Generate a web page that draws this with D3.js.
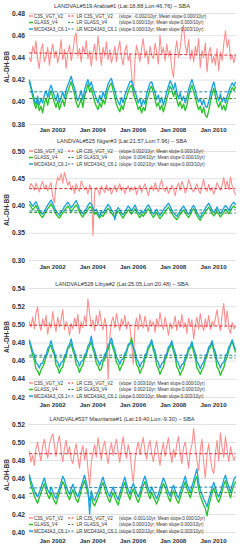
<!DOCTYPE html>
<html>
<head>
<meta charset="utf-8">
<script src="https://cdn.jsdelivr.net/npm/d3@7"></script>
<style>
body { margin: 0; background: #fff; }
svg { display: block; font-family: "Liberation Sans", Arial, sans-serif; }
</style>
</head>
<body>
<div id="chart"></div>
<script>
// AL-DH-BB time series for four desert LANDVAL sites, monthly, Nov 2000 .. Feb 2011

const seriesNames = ["C3S_VGT_V2", "GLASS_V4", "MCD43A3_C6.1"];
const xTickYears = [2002, 2004, 2006, 2008, 2010];

const titles = [
  "LANDVAL#519 Arabia#1 (Lat:18.88,Lon:46.76) \u2013 SBA",
  "LANDVAL#525 Niger#3 (Lat:21.57,Lon:7.96) \u2013 SBA",
  "LANDVAL#528 Libya#2 (Lat:25.05,Lon:20.48) \u2013 SBA",
  "LANDVAL#537 Mauritania#1 (Lat:19.40,Lon:-9.30) \u2013 SBA"
];

// ---- Arabia#1
const arabiaTicks = [0.38, 0.40, 0.42, 0.44, 0.46, 0.48];
const arabiaC3S = [0.440, 0.436,
  0.450, 0.444, 0.455, 0.438, 0.430, 0.447, 0.452, 0.436, 0.441, 0.449, 0.433, 0.445,
  0.452, 0.440, 0.446, 0.435, 0.443, 0.456, 0.438, 0.447, 0.430, 0.444, 0.451, 0.437,
  0.445, 0.458, 0.462, 0.441, 0.448, 0.436, 0.450, 0.443, 0.455, 0.439, 0.446, 0.432,
  0.444, 0.452, 0.437, 0.459, 0.446, 0.433, 0.449, 0.441, 0.454, 0.438, 0.447, 0.435,
  0.442, 0.450, 0.436, 0.447, 0.455, 0.440, 0.433, 0.446, 0.451, 0.437, 0.443, 0.425,
  0.405, 0.438, 0.451, 0.444, 0.436, 0.448, 0.457, 0.440, 0.446, 0.434, 0.450, 0.442,
  0.439, 0.453, 0.445, 0.434, 0.460, 0.443, 0.449, 0.437, 0.452, 0.441, 0.446, 0.430,
  0.422, 0.445, 0.455, 0.440, 0.448, 0.462, 0.469, 0.451, 0.443, 0.456, 0.438, 0.447,
  0.436, 0.450, 0.442, 0.457, 0.431, 0.446, 0.440, 0.453, 0.427, 0.444, 0.449, 0.435,
  0.441, 0.433, 0.448, 0.428, 0.445, 0.437, 0.452, 0.464, 0.449, 0.456, 0.438, 0.442,
  0.435, 0.443];
const arabiaGLASS = [0.418, 0.412,
  0.405, 0.398, 0.394, 0.401, 0.392, 0.396, 0.390, 0.399, 0.403, 0.397, 0.405, 0.410,
  0.404, 0.399, 0.395, 0.401, 0.393, 0.398, 0.402, 0.396, 0.405, 0.409, 0.414, 0.418,
  0.412, 0.407, 0.400, 0.395, 0.398, 0.403, 0.395, 0.405, 0.410, 0.416, 0.409, 0.413,
  0.406, 0.400, 0.396, 0.393, 0.399, 0.395, 0.402, 0.398, 0.405, 0.411, 0.415, 0.417,
  0.410, 0.404, 0.398, 0.394, 0.391, 0.397, 0.393, 0.400, 0.404, 0.409, 0.413, 0.415,
  0.409, 0.403, 0.399, 0.393, 0.396, 0.390, 0.395, 0.392, 0.401, 0.406, 0.412, 0.414,
  0.408, 0.402, 0.396, 0.399, 0.393, 0.397, 0.391, 0.396, 0.403, 0.408, 0.414, 0.411,
  0.405, 0.410, 0.402, 0.396, 0.400, 0.394, 0.398, 0.392, 0.397, 0.405, 0.411, 0.415,
  0.409, 0.404, 0.398, 0.393, 0.396, 0.390, 0.395, 0.388, 0.386, 0.392, 0.400, 0.407,
  0.412, 0.405, 0.399, 0.395, 0.400, 0.393, 0.397, 0.392, 0.399, 0.404, 0.409, 0.413,
  0.410, 0.414];
const arabiaMCD = [0.420, 0.414,
  0.408, 0.402, 0.398, 0.405, 0.397, 0.403, 0.399, 0.406, 0.410, 0.404, 0.411, 0.415,
  0.410, 0.405, 0.401, 0.408, 0.399, 0.404, 0.409, 0.403, 0.411, 0.415, 0.419, 0.423,
  0.417, 0.412, 0.406, 0.401, 0.405, 0.410, 0.402, 0.411, 0.416, 0.420, 0.414, 0.418,
  0.412, 0.407, 0.403, 0.399, 0.406, 0.401, 0.409, 0.404, 0.411, 0.416, 0.419, 0.421,
  0.415, 0.410, 0.404, 0.400, 0.397, 0.404, 0.399, 0.406, 0.410, 0.414, 0.418, 0.419,
  0.414, 0.409, 0.405, 0.399, 0.403, 0.396, 0.402, 0.398, 0.407, 0.412, 0.417, 0.418,
  0.413, 0.408, 0.402, 0.406, 0.399, 0.404, 0.397, 0.403, 0.409, 0.414, 0.419, 0.416,
  0.411, 0.417, 0.409, 0.403, 0.408, 0.401, 0.405, 0.399, 0.404, 0.411, 0.416, 0.420,
  0.415, 0.410, 0.404, 0.400, 0.403, 0.397, 0.402, 0.396, 0.395, 0.400, 0.407, 0.413,
  0.418, 0.411, 0.406, 0.401, 0.407, 0.400, 0.404, 0.399, 0.405, 0.410, 0.414, 0.417,
  0.414, 0.418];
// linear-regression lines, [start, end] for C3S, GLASS, MCD
const arabiaTrend = [[0.444, 0.442], [0.403, 0.403], [0.409, 0.409]];
const arabiaSlopes = [
  "(slope: -0.002/10yr; Mean slope:0.000/10yr)",
  "(slope:0.000/10yr; Mean slope:0.000/10yr)",
  "(slope:0.000/10yr; Mean slope:0.003/10yr)"
];

// ---- Niger#3
const nigerTicks = [0.30, 0.35, 0.40, 0.45, 0.50];
const nigerC3S = [0.432, 0.440,
  0.436, 0.428, 0.441, 0.433, 0.425, 0.437, 0.444, 0.430, 0.438, 0.427, 0.435, 0.442,
  0.415, 0.405, 0.438, 0.452, 0.446, 0.458, 0.441, 0.461, 0.449, 0.437, 0.444, 0.428,
  0.436, 0.422, 0.440, 0.431, 0.426, 0.445, 0.437, 0.429, 0.434, 0.421, 0.438, 0.430,
  0.345, 0.425, 0.433, 0.428, 0.419, 0.436, 0.430, 0.424, 0.438, 0.427, 0.433, 0.421,
  0.429, 0.437, 0.425, 0.432, 0.440, 0.427, 0.434, 0.422, 0.431, 0.436, 0.426, 0.433,
  0.428, 0.435, 0.420, 0.431, 0.437, 0.424, 0.433, 0.440, 0.429, 0.418, 0.431, 0.436,
  0.427, 0.442, 0.433, 0.425, 0.438, 0.447, 0.431, 0.426, 0.435, 0.422, 0.429, 0.437,
  0.430, 0.418, 0.434, 0.441, 0.428, 0.444, 0.436, 0.423, 0.432, 0.447, 0.438, 0.429,
  0.425, 0.433, 0.440, 0.428, 0.422, 0.436, 0.448, 0.431, 0.426, 0.439, 0.427, 0.433,
  0.421, 0.430, 0.442, 0.435, 0.428, 0.437, 0.451, 0.433, 0.445, 0.429, 0.452, 0.436,
  0.428, 0.419];
const nigerGLASS = [0.402, 0.398,
  0.392, 0.396, 0.400, 0.393, 0.386, 0.381, 0.378, 0.384, 0.389, 0.394, 0.398, 0.403,
  0.397, 0.390, 0.384, 0.380, 0.377, 0.382, 0.386, 0.391, 0.395, 0.399, 0.395, 0.389,
  0.393, 0.398, 0.401, 0.395, 0.388, 0.382, 0.379, 0.385, 0.388, 0.393, 0.398, 0.396,
  0.390, 0.384, 0.387, 0.381, 0.377, 0.383, 0.380, 0.386, 0.390, 0.395, 0.391, 0.386,
  0.382, 0.378, 0.384, 0.390, 0.386, 0.381, 0.377, 0.383, 0.387, 0.392, 0.389, 0.384,
  0.389, 0.394, 0.388, 0.382, 0.378, 0.384, 0.380, 0.385, 0.390, 0.394, 0.389, 0.383,
  0.378, 0.383, 0.387, 0.381, 0.376, 0.380, 0.385, 0.389, 0.393, 0.397, 0.392, 0.386,
  0.381, 0.377, 0.374, 0.379, 0.384, 0.388, 0.392, 0.387, 0.382, 0.378, 0.383, 0.390,
  0.394, 0.388, 0.382, 0.376, 0.373, 0.379, 0.383, 0.388, 0.393, 0.397, 0.392, 0.386,
  0.381, 0.385, 0.390, 0.384, 0.379, 0.383, 0.388, 0.393, 0.389, 0.385, 0.391, 0.396,
  0.399, 0.395];
const nigerMCD = [0.408, 0.404,
  0.399, 0.403, 0.407, 0.400, 0.392, 0.387, 0.384, 0.390, 0.395, 0.401, 0.405, 0.410,
  0.404, 0.396, 0.390, 0.386, 0.382, 0.388, 0.392, 0.398, 0.402, 0.406, 0.401, 0.396,
  0.400, 0.405, 0.409, 0.402, 0.394, 0.388, 0.385, 0.391, 0.394, 0.400, 0.405, 0.403,
  0.396, 0.390, 0.393, 0.387, 0.380, 0.389, 0.386, 0.392, 0.397, 0.402, 0.398, 0.392,
  0.388, 0.374, 0.390, 0.396, 0.392, 0.387, 0.383, 0.389, 0.394, 0.399, 0.395, 0.390,
  0.395, 0.401, 0.394, 0.388, 0.384, 0.390, 0.386, 0.392, 0.397, 0.401, 0.396, 0.389,
  0.384, 0.389, 0.393, 0.387, 0.382, 0.386, 0.392, 0.396, 0.400, 0.404, 0.399, 0.392,
  0.387, 0.383, 0.380, 0.385, 0.390, 0.395, 0.399, 0.394, 0.388, 0.384, 0.389, 0.396,
  0.400, 0.394, 0.388, 0.382, 0.378, 0.385, 0.389, 0.395, 0.400, 0.404, 0.398, 0.392,
  0.387, 0.391, 0.397, 0.390, 0.385, 0.389, 0.395, 0.400, 0.396, 0.391, 0.398, 0.403,
  0.406, 0.401];
const nigerTrend = [[0.431, 0.431], [0.387, 0.386], [0.390, 0.392]];
const nigerSlopes = [
  "(slope:0.002/10yr; Mean slope:0.000/10yr)",
  "(slope: 0.004/10yr; Mean slope:0.000/10yr)",
  "(slope: 0.002/10yr; Mean slope:0.003/10yr)"
];

// ---- Libya#2
const libyaTicks = [0.42, 0.44, 0.46, 0.48, 0.50, 0.52, 0.54];
const libyaC3S = [0.503, 0.497,
  0.508, 0.495, 0.512, 0.519, 0.501, 0.493, 0.506, 0.498, 0.510, 0.489, 0.502, 0.496,
  0.514, 0.500, 0.492, 0.508, 0.497, 0.505, 0.516, 0.494, 0.503, 0.499, 0.488, 0.501,
  0.495, 0.507, 0.498, 0.511, 0.490, 0.503, 0.496, 0.509, 0.500, 0.528, 0.512, 0.497,
  0.505, 0.493, 0.510, 0.499, 0.515, 0.502, 0.494, 0.507, 0.498, 0.440, 0.485, 0.503,
  0.508, 0.496, 0.512, 0.501, 0.493, 0.506, 0.499, 0.510, 0.495, 0.503, 0.497, 0.480,
  0.456, 0.498, 0.507, 0.494, 0.511, 0.502, 0.496, 0.509, 0.500, 0.492, 0.505, 0.498,
  0.503, 0.491, 0.506, 0.497, 0.513, 0.501, 0.494, 0.508, 0.499, 0.488, 0.502, 0.495,
  0.500, 0.509, 0.493, 0.504, 0.497, 0.511, 0.496, 0.502, 0.490, 0.507, 0.498, 0.505,
  0.484, 0.499, 0.508, 0.495, 0.512, 0.500, 0.493, 0.506, 0.497, 0.510, 0.494, 0.503,
  0.498, 0.507, 0.516, 0.501, 0.493, 0.510, 0.523, 0.499, 0.515, 0.496, 0.490, 0.502,
  0.495, 0.498];
const libyaGLASS = [0.481, 0.474,
  0.466, 0.461, 0.451, 0.449, 0.444, 0.450, 0.453, 0.457, 0.465, 0.468, 0.475, 0.477,
  0.470, 0.466, 0.455, 0.452, 0.446, 0.451, 0.453, 0.461, 0.465, 0.473, 0.475, 0.479,
  0.471, 0.466, 0.456, 0.453, 0.447, 0.452, 0.455, 0.463, 0.466, 0.473, 0.476, 0.481,
  0.472, 0.467, 0.457, 0.454, 0.449, 0.451, 0.459, 0.461, 0.469, 0.472, 0.479, 0.480,
  0.473, 0.468, 0.458, 0.455, 0.449, 0.454, 0.457, 0.465, 0.469, 0.476, 0.478, 0.485,
  0.474, 0.467, 0.456, 0.453, 0.446, 0.451, 0.454, 0.462, 0.466, 0.473, 0.476, 0.481,
  0.471, 0.466, 0.455, 0.451, 0.445, 0.450, 0.453, 0.461, 0.465, 0.472, 0.475, 0.479,
  0.470, 0.464, 0.453, 0.450, 0.444, 0.449, 0.452, 0.460, 0.464, 0.471, 0.474, 0.478,
  0.469, 0.463, 0.452, 0.449, 0.445, 0.450, 0.453, 0.461, 0.465, 0.472, 0.475, 0.480,
  0.470, 0.464, 0.453, 0.450, 0.444, 0.449, 0.452, 0.460, 0.464, 0.471, 0.477, 0.481,
  0.475, 0.469];
const libyaMCD = [0.483, 0.477,
  0.470, 0.466, 0.458, 0.456, 0.452, 0.457, 0.457, 0.464, 0.466, 0.473, 0.476, 0.482,
  0.474, 0.469, 0.461, 0.458, 0.453, 0.458, 0.459, 0.465, 0.468, 0.475, 0.478, 0.484,
  0.475, 0.470, 0.462, 0.459, 0.454, 0.459, 0.460, 0.466, 0.469, 0.476, 0.479, 0.487,
  0.476, 0.471, 0.463, 0.460, 0.455, 0.460, 0.461, 0.467, 0.470, 0.477, 0.480, 0.485,
  0.477, 0.472, 0.464, 0.461, 0.456, 0.461, 0.462, 0.468, 0.471, 0.478, 0.479, 0.480,
  0.475, 0.471, 0.462, 0.459, 0.453, 0.458, 0.459, 0.466, 0.469, 0.476, 0.478, 0.483,
  0.475, 0.470, 0.461, 0.458, 0.452, 0.457, 0.458, 0.465, 0.468, 0.475, 0.477, 0.482,
  0.474, 0.469, 0.460, 0.457, 0.451, 0.456, 0.457, 0.464, 0.467, 0.474, 0.476, 0.481,
  0.473, 0.468, 0.459, 0.456, 0.451, 0.456, 0.458, 0.465, 0.468, 0.475, 0.477, 0.482,
  0.474, 0.469, 0.460, 0.457, 0.452, 0.457, 0.458, 0.465, 0.468, 0.475, 0.478, 0.483,
  0.477, 0.472];
const libyaTrend = [[0.499, 0.498], [0.464, 0.463], [0.466, 0.466]];
const libyaSlopes = [
  "(slope: 0.003/10yr; Mean slope:0.000/10yr)",
  "(slope: 0.002/10yr; Mean slope:0.000/10yr)",
  "(slope:0.000/10yr; Mean slope:0.003/10yr)"
];

// ---- Mauritania#1
const mauriTicks = [0.40, 0.42, 0.44, 0.46, 0.48, 0.50, 0.52];
const mauriC3S = [0.490, 0.478,
  0.485, 0.474, 0.492, 0.500, 0.488, 0.479, 0.495, 0.503, 0.491, 0.482, 0.497, 0.505,
  0.509, 0.496, 0.484, 0.499, 0.507, 0.490, 0.478, 0.493, 0.502, 0.486, 0.495, 0.481,
  0.476, 0.490, 0.498, 0.484, 0.471, 0.489, 0.496, 0.480, 0.493, 0.470, 0.450, 0.478,
  0.488, 0.497, 0.483, 0.505, 0.492, 0.480, 0.494, 0.501, 0.487, 0.476, 0.491, 0.499,
  0.485, 0.496, 0.503, 0.489, 0.477, 0.494, 0.506, 0.491, 0.482, 0.497, 0.488, 0.470,
  0.455, 0.479, 0.492, 0.500, 0.486, 0.497, 0.505, 0.490, 0.481, 0.495, 0.502, 0.487,
  0.478, 0.493, 0.501, 0.486, 0.474, 0.490, 0.499, 0.484, 0.496, 0.505, 0.489, 0.477,
  0.492, 0.483, 0.498, 0.506, 0.488, 0.476, 0.494, 0.500, 0.485, 0.471, 0.490, 0.497,
  0.515, 0.495, 0.480, 0.468, 0.491, 0.503, 0.477, 0.460, 0.486, 0.498, 0.482, 0.470,
  0.465, 0.488, 0.502, 0.479, 0.510, 0.494, 0.483, 0.506, 0.491, 0.478, 0.495, 0.487,
  0.480, 0.484];
const mauriGLASS = [0.461, 0.452,
  0.446, 0.440, 0.436, 0.432, 0.438, 0.443, 0.449, 0.454, 0.447, 0.441, 0.437, 0.444,
  0.439, 0.434, 0.431, 0.437, 0.444, 0.450, 0.456, 0.452, 0.445, 0.440, 0.436, 0.442,
  0.447, 0.441, 0.436, 0.433, 0.439, 0.446, 0.452, 0.457, 0.449, 0.443, 0.435, 0.440,
  0.432, 0.429, 0.434, 0.438, 0.444, 0.451, 0.455, 0.448, 0.442, 0.437, 0.433, 0.439,
  0.444, 0.438, 0.434, 0.430, 0.437, 0.443, 0.450, 0.455, 0.447, 0.441, 0.436, 0.443,
  0.448, 0.442, 0.437, 0.433, 0.438, 0.445, 0.451, 0.456, 0.449, 0.442, 0.437, 0.444,
  0.439, 0.435, 0.431, 0.436, 0.442, 0.448, 0.454, 0.450, 0.444, 0.438, 0.434, 0.441,
  0.446, 0.440, 0.435, 0.432, 0.438, 0.444, 0.450, 0.456, 0.448, 0.443, 0.438, 0.445,
  0.451, 0.458, 0.462, 0.447, 0.440, 0.435, 0.430, 0.426, 0.418, 0.429, 0.436, 0.443,
  0.449, 0.443, 0.437, 0.433, 0.438, 0.445, 0.452, 0.457, 0.450, 0.444, 0.438, 0.446,
  0.452, 0.456];
const mauriMCD = [0.464, 0.457,
  0.451, 0.446, 0.442, 0.439, 0.444, 0.449, 0.455, 0.460, 0.453, 0.447, 0.443, 0.450,
  0.445, 0.440, 0.437, 0.443, 0.449, 0.455, 0.462, 0.458, 0.451, 0.446, 0.442, 0.448,
  0.453, 0.447, 0.442, 0.439, 0.445, 0.451, 0.457, 0.463, 0.455, 0.448, 0.420, 0.446,
  0.438, 0.435, 0.440, 0.444, 0.450, 0.456, 0.461, 0.454, 0.448, 0.443, 0.439, 0.445,
  0.450, 0.444, 0.440, 0.436, 0.443, 0.449, 0.455, 0.461, 0.453, 0.447, 0.442, 0.449,
  0.454, 0.448, 0.443, 0.439, 0.444, 0.450, 0.457, 0.462, 0.455, 0.448, 0.443, 0.450,
  0.445, 0.441, 0.437, 0.442, 0.448, 0.454, 0.460, 0.456, 0.450, 0.444, 0.440, 0.447,
  0.452, 0.446, 0.441, 0.438, 0.444, 0.450, 0.456, 0.462, 0.454, 0.449, 0.444, 0.451,
  0.457, 0.464, 0.470, 0.455, 0.447, 0.442, 0.437, 0.433, 0.428, 0.436, 0.442, 0.449,
  0.455, 0.449, 0.443, 0.439, 0.444, 0.451, 0.458, 0.463, 0.456, 0.450, 0.444, 0.452,
  0.458, 0.462];
const mauriTrend = [[0.487, 0.487], [0.443, 0.444], [0.449, 0.450]];
const mauriSlopes = [
  "(slope:-0.001/10yr; Mean slope:0.000/10yr)",
  "(slope:0.000/10yr; Mean slope:0.000/10yr)",
  "(slope:0.003/10yr; Mean slope:0.003/10yr)"
];

// ------------------------------------------------------------

const width = 247, height = 550;
const plotLeft = 29, plotRight = 236;
const lineColors = ["#ff8f8f", "#2cc22c", "#1ea3dd"];
const lineWidths = [1.1, 1.35, 1.35];
const trendColors = ["#e3262b", "#2f8a35", "#1b7f9f"];
const textColor = "#333";

const firstMonth = new Date(2000, 10, 15);
const months = arabiaC3S.map((d, i) => d3.timeMonth.offset(firstMonth, i));

const x = d3.scaleTime()
  .domain([new Date(2002, 0, 1), new Date(2010, 0, 1)])
  .range([52, 213]);

const panels = [
  {title: titles[0], series: [arabiaC3S, arabiaGLASS, arabiaMCD], trend: arabiaTrend, slopes: arabiaSlopes,
   ticks: arabiaTicks, top: 13, bottom: 124, titleY: 6, legendY: 16, xLabelY: 130, yLabelY: 67},
  {title: titles[1], series: [nigerC3S, nigerGLASS, nigerMCD], trend: nigerTrend, slopes: nigerSlopes,
   ticks: nigerTicks, top: 151, bottom: 260, titleY: 141, legendY: 151, xLabelY: 267, yLabelY: 210},
  {title: titles[2], series: [libyaC3S, libyaGLASS, libyaMCD], trend: libyaTrend, slopes: libyaSlopes,
   ticks: libyaTicks, top: 288, bottom: 397, titleY: 284, legendY: 383, xLabelY: 405, yLabelY: 337},
  {title: titles[3], series: [mauriC3S, mauriGLASS, mauriMCD], trend: mauriTrend, slopes: mauriSlopes,
   ticks: mauriTicks, top: 424, bottom: 532, titleY: 419, legendY: 518, xLabelY: 541, yLabelY: 475}
];

const svg = d3.select("#chart")
  .append("svg")
  .attr("width", width)
  .attr("height", height)
  .attr("viewBox", [0, 0, width, height]);

svg.append("rect").attr("width", width).attr("height", height).attr("fill", "#fff");

panels.forEach(function(p) {
  const y = d3.scaleLinear()
    .domain(d3.extent(p.ticks))
    .range([p.bottom, p.top]);

  const g = svg.append("g");

  // horizontal grid and y labels
  g.append("g")
    .attr("transform", `translate(${plotLeft},0)`)
    .call(d3.axisLeft(y).tickValues(p.ticks).tickFormat(d3.format(".2f"))
      .tickSize(-(plotRight - plotLeft)).tickPadding(4))
    .attr("font-size", 6.7)
    .attr("font-family", null)
    .call(a => a.select(".domain").remove())
    .call(a => a.selectAll(".tick line").attr("stroke", "#dadada").attr("stroke-width", 0.8))
    .call(a => a.selectAll(".tick text").attr("fill", textColor).attr("font-weight", "bold"));

  // x labels
  g.append("g")
    .attr("transform", `translate(0,${p.xLabelY})`)
    .call(d3.axisBottom(x).tickValues(xTickYears.map(yr => new Date(yr, 0, 1)))
      .tickFormat(d3.timeFormat("Jan %Y")).tickSize(0).tickPadding(0))
    .attr("font-size", 6.2)
    .attr("font-family", null)
    .call(a => a.select(".domain").remove())
    .call(a => a.selectAll(".tick text").attr("y", 0).attr("dy", "0.35em")
      .attr("fill", textColor).attr("font-weight", "bold"));

  // data lines
  const line = d3.line()
    .x((d, i) => x(months[i]))
    .y(d => y(d));

  p.series.forEach(function(s, k) {
    g.append("path")
      .datum(s)
      .attr("fill", "none")
      .attr("stroke", lineColors[k])
      .attr("stroke-width", lineWidths[k])
      .attr("stroke-linejoin", "round")
      .attr("d", line);
  });

  // regression lines
  p.trend.forEach(function(t, k) {
    g.append("line")
      .attr("x1", x(months[0]))
      .attr("x2", x(months[months.length - 1]))
      .attr("y1", y(t[0]))
      .attr("y2", y(t[1]))
      .attr("stroke", trendColors[k])
      .attr("stroke-width", 1)
      .attr("stroke-dasharray", "3,2");
  });

  // title
  g.append("text")
    .attr("x", 122)
    .attr("y", p.titleY)
    .attr("dy", "0.35em")
    .attr("text-anchor", "middle")
    .attr("font-size", 5.7)
    .attr("fill", textColor)
    .text(p.title);

  // y axis label
  g.append("text")
    .attr("transform", `translate(7,${p.yLabelY}) rotate(-90)`)
    .attr("dy", "0.35em")
    .attr("text-anchor", "middle")
    .attr("font-size", 6.5)
    .attr("font-weight", "bold")
    .attr("fill", textColor)
    .text("AL-DH-BB");

  // legend
  const legend = g.append("g").attr("font-size", 4.6).attr("fill", textColor);
  seriesNames.forEach(function(name, k) {
    const ly = p.legendY + k * 6.5;
    legend.append("line")
      .attr("x1", 29).attr("x2", 33).attr("y1", ly).attr("y2", ly)
      .attr("stroke", lineColors[k]).attr("stroke-width", 1.5);
    legend.append("text")
      .attr("x", 34).attr("y", ly).attr("dy", "0.35em")
      .text(name);
    legend.append("line")
      .attr("x1", 68).attr("x2", 75).attr("y1", ly).attr("y2", ly)
      .attr("stroke", trendColors[k]).attr("stroke-width", 1)
      .attr("stroke-dasharray", "2,1.5");
    legend.append("text")
      .attr("x", 76.5).attr("y", ly).attr("dy", "0.35em")
      .text("LR " + name);
    legend.append("text")
      .attr("x", 119).attr("y", ly).attr("dy", "0.35em")
      .attr("font-size", 4.5)
      .text(p.slopes[k]);
  });
});
</script>
</body>
</html>
